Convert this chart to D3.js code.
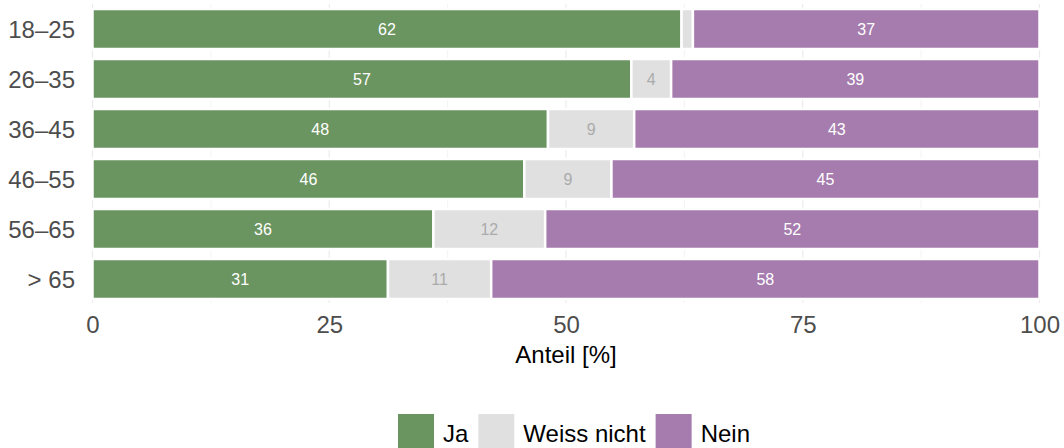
<!DOCTYPE html>
<html>
<head>
<meta charset="UTF-8">
<title>Anteil nach Altersgruppe</title>
<script src="https://d3js.org/d3.v7.min.js"></script>
<style>
  body { margin: 0; background: #fff; }
  text { font-family: "Liberation Sans", Arial, Helvetica, sans-serif; }
</style>
</head>
<body>
<div id="chart"></div>
<script>

// data (shares in %, labels show rounded values)
var groups = ["18–25", "26–35", "36–45", "46–55", "56–65", "> 65"];
var answers = ["Ja", "Weiss nicht", "Nein"];
var ja = [62.2, 56.9, 48.1, 45.6, 36.0, 31.2];
var weissNicht = [1.2, 4.2, 9.1, 9.2, 11.8, 10.9];
var nein = [36.6, 38.9, 42.8, 45.2, 52.2, 57.9];
var xTicks = [0, 25, 50, 75, 100];
var xMinor = [12.5, 37.5, 62.5, 87.5];

var colors = ["#6b9560", "#e0e0e0", "#a67cae"];
var labelColors = ["#ffffff", "#ababab", "#ffffff"];

var width = 1064, height = 448;

var svg = d3.select("#chart")
  .append("svg")
    .attr("width", width)
    .attr("height", height);

var x = d3.scaleLinear().domain([0, 100]).range([92.5, 1039.5]);
var y = d3.scaleBand().domain(groups).range([5, 303])
  .paddingInner(0.2).paddingOuter(0.08);

// grid
svg.append("g").selectAll("line")
  .data(xMinor)
  .enter().append("line")
    .attr("x1", function(d) { return x(d); })
    .attr("x2", function(d) { return x(d); })
    .attr("y1", 4).attr("y2", 303)
    .attr("stroke", "#f0f0f0")
    .attr("stroke-width", 0.8);

svg.append("g").selectAll("line")
  .data(xTicks)
  .enter().append("line")
    .attr("x1", function(d) { return x(d); })
    .attr("x2", function(d) { return x(d); })
    .attr("y1", 4).attr("y2", 303)
    .attr("stroke", "#ebebeb")
    .attr("stroke-width", 1.2);

// stack it up
var rows = groups.map(function(g, i) {
  return { group: g, "Ja": ja[i], "Weiss nicht": weissNicht[i], "Nein": nein[i] };
});
var stacked = d3.stack().keys(answers)(rows);

var layer = svg.append("g").selectAll("g")
  .data(stacked)
  .enter().append("g")
    .attr("fill", function(d, i) { return colors[i]; });

layer.selectAll("rect")
  .data(function(d) { return d; })
  .enter().append("rect")
    .attr("x", function(d) { return x(d[0]); })
    .attr("width", function(d) { return x(d[1]) - x(d[0]); })
    .attr("y", function(d) { return y(d.data.group); })
    .attr("height", y.bandwidth())
    .attr("stroke", "#fff")
    .attr("stroke-width", 2.5);

// value labels (skip tiny ones)
stacked.forEach(function(s, i) {
  svg.append("g").selectAll("text")
    .data(s.filter(function(d) { return d[1] - d[0] >= 2; }))
    .enter().append("text")
      .attr("x", function(d) { return x((d[0] + d[1]) / 2); })
      .attr("y", function(d) { return y(d.data.group) + y.bandwidth() / 2; })
      .attr("dy", "0.36em")
      .attr("text-anchor", "middle")
      .attr("font-size", 16)
      .attr("fill", labelColors[i])
      .text(function(d) { return Math.round(d[1] - d[0]); });
});

// y labels
svg.append("g").selectAll("text")
  .data(groups)
  .enter().append("text")
    .attr("x", 75)
    .attr("y", function(d) { return y(d) + y.bandwidth() / 2; })
    .attr("dy", "0.36em")
    .attr("text-anchor", "end")
    .attr("font-size", 24)
    .attr("fill", "#4d4d4d")
    .text(function(d) { return d; });

// x axis
var xAxis = d3.axisBottom(x).tickValues(xTicks).tickSize(0).tickPadding(0);
var gx = svg.append("g")
  .attr("transform", "translate(0,333)")
  .call(xAxis);
gx.select(".domain").remove();
gx.selectAll("text")
  .attr("font-size", 24)
  .attr("font-family", null)
  .attr("fill", "#4d4d4d")
  .attr("y", 0)
  .attr("dy", 0);

svg.append("text")
  .attr("x", x(50))
  .attr("y", 363)
  .attr("text-anchor", "middle")
  .attr("font-size", 24)
  .attr("fill", "#000")
  .text("Anteil [%]");

// legend
var legend = svg.append("g");
var lx = 398;
answers.forEach(function(a, i) {
  legend.append("rect")
    .attr("x", lx).attr("y", 414)
    .attr("width", 36).attr("height", 36)
    .attr("fill", colors[i]);
  var t = legend.append("text")
    .attr("x", lx + 45)
    .attr("y", 442)
    .attr("font-size", 24)
    .attr("fill", "#000")
    .text(a);
  lx = lx + 45 + t.node().getComputedTextLength() + 10;
});

</script>
</body>
</html>
